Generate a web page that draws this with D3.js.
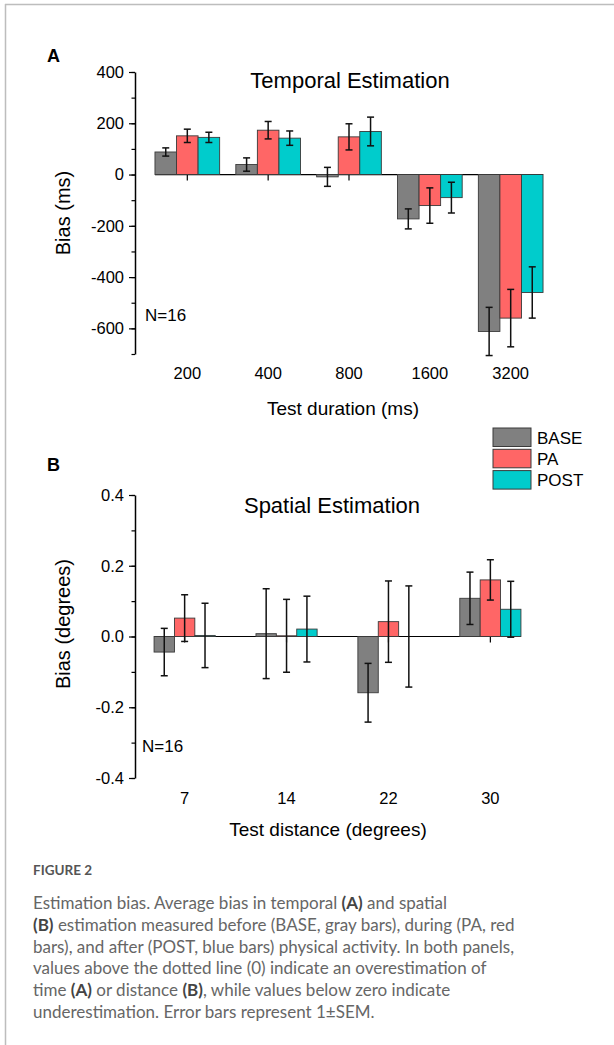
<!DOCTYPE html>
<html>
<head>
<meta charset="utf-8">
<script src="https://cdn.jsdelivr.net/npm/d3@7"></script>
<style>
  body { margin: 0; background: #fff; }
  svg { display: block; }
  .lab { font-family: "Liberation Sans", Arial, sans-serif; fill: #000; }
  .cap { font-family: Lato, "Open Sans", sans-serif; fill: #666; }
</style>
</head>
<body>
<svg id="fig" width="614" height="1045"></svg>
<script>
// groups / legend
const groups = ["BASE", "PA", "POST"];
const colors = ["#808080", "#ff6666", "#00cccc"];

// panel A: temporal estimation (ms)
const durations = ["200", "400", "800", "1600", "3200"];
const temporalBase = [88, 39, -9, -173, -612];
const temporalPA = [151, 173, 147, -121, -560];
const temporalPost = [145, 142, 168, -90, -460];
const temporalBaseErr = [16, 26, 37, 39, 94];
const temporalPAErr = [26, 34, 51, 69, 112];
const temporalPostErr = [20, 28, 56, 60, 100];
const temporalTicks = [-600, -400, -200, 0, 200, 400];
const temporalMinor = [-700, -600, -500, -400, -300, -200, -100, 0, 100, 200, 300, 400];

// panel B: spatial estimation (degrees)
const distances = ["7", "14", "22", "30"];
const spatialBase = [-0.044, 0.008, -0.159, 0.108];
const spatialPA = [0.052, 0.002, 0.042, 0.160];
const spatialPost = [0.003, 0.021, 0.0, 0.077];
const spatialBaseErr = [0.067, 0.127, 0.083, 0.074];
const spatialPAErr = [0.066, 0.103, 0.115, 0.057];
const spatialPostErr = [0.091, 0.093, 0.143, 0.079];
const spatialTicks = [-0.4, -0.2, 0, 0.2, 0.4];
const spatialMinor = [-0.4, -0.3, -0.2, -0.1, 0, 0.1, 0.2, 0.3, 0.4];

const svg = d3.select("#fig");

// page frame
svg.append("line").attr("x1", 5).attr("x2", 614).attr("y1", 4.5).attr("y2", 4.5)
  .attr("stroke", "#bdbdbd").attr("stroke-width", 1.5);
svg.append("line").attr("x1", 5.5).attr("x2", 5.5).attr("y1", 4).attr("y2", 1045)
  .attr("stroke", "#bdbdbd").attr("stroke-width", 1.5);

function panel(p) {
  const g = svg.append("g");
  const x = d3.scaleBand().domain(p.cats).range(p.xRange)
    .paddingInner(p.pad).paddingOuter(p.pad);
  const xs = d3.scaleBand().domain(groups).range([0, x.bandwidth()]);
  const y = d3.scaleLinear().domain(p.domain).range(p.yRange);
  const series = [p.base, p.pa, p.post];
  const errs = [p.baseErr, p.paErr, p.postErr];

  // zero line + category ticks
  const x0 = x(p.cats[0]), x1 = x(p.cats[p.cats.length - 1]) + x.bandwidth();
  g.append("line").attr("x1", x0).attr("x2", x1).attr("y1", y(0)).attr("y2", y(0))
    .attr("stroke", "#000").attr("stroke-width", 1.2);
  g.selectAll(".ct").data(p.cats).join("line")
    .attr("x1", d => x(d) + x.bandwidth() / 2).attr("x2", d => x(d) + x.bandwidth() / 2)
    .attr("y1", y(0)).attr("y2", y(0) + 6)
    .attr("stroke", "#000").attr("stroke-width", 1.2);

  // bars
  groups.forEach((grp, gi) => {
    g.selectAll(".b" + gi).data(p.cats).join("rect")
      .attr("x", d => x(d) + xs(grp))
      .attr("width", xs.bandwidth())
      .attr("y", (d, i) => Math.min(y(series[gi][i]), y(0)))
      .attr("height", (d, i) => Math.abs(y(series[gi][i]) - y(0)))
      .attr("fill", colors[gi]).attr("stroke", "#3a3a3a").attr("stroke-width", 0.9);
  });

  // error bars
  groups.forEach((grp, gi) => {
    p.cats.forEach((c, i) => {
      const cx = x(c) + xs(grp) + xs.bandwidth() / 2;
      const v = series[gi][i], e = errs[gi][i];
      const eg = g.append("g").attr("stroke", "#111").attr("stroke-width", 1.5);
      eg.append("line").attr("x1", cx).attr("x2", cx).attr("y1", y(v - e)).attr("y2", y(v + e));
      [v - e, v + e].forEach(t => eg.append("line")
        .attr("x1", cx - 3.5).attr("x2", cx + 3.5).attr("y1", y(t)).attr("y2", y(t)));
    });
  });

  // y axis
  g.append("g").attr("transform", `translate(${p.axisX},0)`)
    .call(d3.axisLeft(y).tickValues(p.minor).tickSize(3.5).tickFormat(""))
    .call(a => a.select(".domain").remove())
    .selectAll("line").attr("stroke", "#000").attr("stroke-width", 1.2);
  const ax = g.append("g").attr("transform", `translate(${p.axisX},0)`)
    .call(d3.axisLeft(y).tickValues(p.ticks).tickSize(6).tickPadding(5).tickFormat(p.fmt).tickSizeOuter(0));
  ax.select(".domain").attr("stroke", "#000").attr("stroke-width", 1.5);
  ax.selectAll(".tick line").attr("stroke", "#000").attr("stroke-width", 1.2);
  ax.selectAll("text").attr("class", "lab").style("font-size", "16.5px").attr("fill", "#000");

  // x category labels
  g.selectAll(".xl").data(p.cats).join("text").attr("class", "lab")
    .attr("x", d => x(d) + x.bandwidth() / 2).attr("y", p.xLabelY)
    .attr("text-anchor", "middle").style("font-size", "16.5px").text(d => d);

  // texts
  g.append("text").attr("class", "lab").attr("x", 47).attr("y", p.letterY)
    .style("font-size", "18px").style("font-weight", "bold").text(p.letter);
  g.append("text").attr("class", "lab").attr("x", p.titleX).attr("y", p.titleY)
    .attr("text-anchor", "middle").style("font-size", "22px").text(p.title);
  g.append("text").attr("class", "lab").attr("x", p.nX).attr("y", p.nY)
    .style("font-size", "17px").text("N=16");
  g.append("text").attr("class", "lab").attr("x", p.xTitleX).attr("y", p.xTitleY)
    .attr("text-anchor", "middle").style("font-size", "19px").text(p.xTitle);
  g.append("text").attr("class", "lab")
    .attr("transform", `translate(70,${p.yTitleY}) rotate(-90)`)
    .attr("text-anchor", "middle").style("font-size", "20px").text(p.yTitle);
}

panel({
  cats: durations, base: temporalBase, pa: temporalPA, post: temporalPost,
  baseErr: temporalBaseErr, paErr: temporalPAErr, postErr: temporalPostErr,
  domain: [-700, 400], yRange: [354, 72], xRange: [138.8, 559.2], pad: 0.2,
  ticks: temporalTicks, minor: temporalMinor, fmt: d => String(d), axisX: 135,
  xLabelY: 379, letter: "A", letterY: 62, title: "Temporal Estimation", titleX: 350, titleY: 88,
  nX: 145, nY: 321, xTitle: "Test duration (ms)", xTitleX: 343, xTitleY: 415,
  yTitle: "Bias (ms)", yTitleY: 213
});

panel({
  cats: distances, base: spatialBase, pa: spatialPA, post: spatialPost,
  baseErr: spatialBaseErr, paErr: spatialPAErr, postErr: spatialPostErr,
  domain: [-0.4, 0.4], yRange: [778, 495], xRange: [113.3, 561.7], pad: 0.4,
  ticks: spatialTicks, minor: spatialMinor, fmt: d => d.toFixed(1), axisX: 135,
  xLabelY: 804, letter: "B", letterY: 471, title: "Spatial Estimation", titleX: 332, titleY: 513,
  nX: 142, nY: 752, xTitle: "Test distance (degrees)", xTitleX: 328, xTitleY: 836,
  yTitle: "Bias (degrees)", yTitleY: 624
});

// legend
const leg = svg.append("g").attr("transform", "translate(493,428)");
groups.forEach((grp, i) => {
  leg.append("rect").attr("x", 0).attr("y", i * 21.3).attr("width", 38).attr("height", 18.5)
    .attr("fill", colors[i]).attr("stroke", "#3a3a3a").attr("stroke-width", 1);
  leg.append("text").attr("class", "lab").attr("x", 44).attr("y", i * 21.3 + 15.5)
    .style("font-size", "17px").text(grp);
});

// caption
const cap = svg.append("text").attr("class", "cap").style("font-size", "17px");
cap.append("tspan").attr("x", 33).attr("y", 875).style("font-size", "13.5px")
  .style("font-weight", "bold").attr("fill", "#555").text("FIGURE 2");
const capLines = [
  [["Estimation bias. Average bias in temporal ", 0], ["(A)", 1], [" and spatial", 0]],
  [["(B)", 1], [" estimation measured before (BASE, gray bars), during (PA, red", 0]],
  [["bars), and after (POST, blue bars) physical activity. In both panels,", 0]],
  [["values above the dotted line (0) indicate an overestimation of", 0]],
  [["time ", 0], ["(A)", 1], [" or distance ", 0], ["(B)", 1], [", while values below zero indicate", 0]],
  [["underestimation. Error bars represent 1\u00b1SEM.", 0]]
];
capLines.forEach((line, li) => {
  line.forEach(([t, b], k) => {
    const ts = cap.append("tspan").text(t);
    if (k === 0) ts.attr("x", 33).attr("y", 909 + li * 21.8);
    if (b) ts.style("font-weight", "bold").attr("fill", "#444");
  });
});
</script>
</body>
</html>
